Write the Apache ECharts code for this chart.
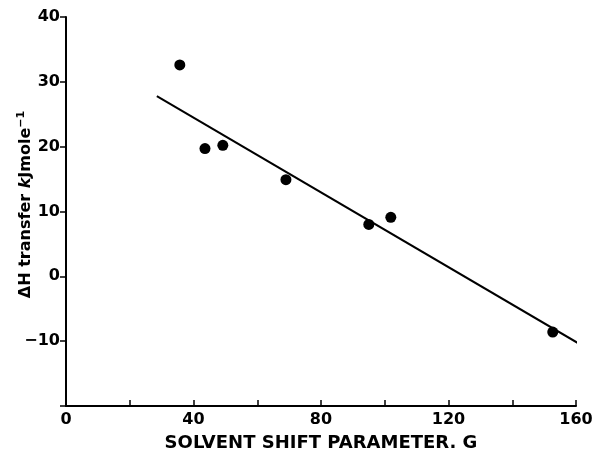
<!DOCTYPE html>
<html>
<head>
<meta charset="utf-8">
<script src="https://cdn.jsdelivr.net/npm/echarts@6/dist/echarts.min.js"></script>
<style>
    html, body { margin: 0; padding: 0; background: #fff; }
    #main { width: 595px; height: 451px; }
</style>
</head>
<body>
<div id="main"></div>
<script>
// measured points: solvent shift parameter G vs enthalpy of transfer
var shiftG = [35.7, 43.6, 49.2, 69, 95, 101.9, 152.7]
var dHTransfer = [32.6, 19.7, 20.2, 14.9, 8.0, 9.1, -8.6]
// least squares line, drawn between its two end points
var fitG = [28.5, 161]
var fitH = [27.8, -10.4]
var xTicks = [0, 40, 80, 120, 160]
var yTicks = [40, 30, 20, 10, 0, -10]

var fontColor = '#000'
var fontFamily = 'DejaVu Sans, Verdana, sans-serif'

var points = shiftG.map(function(g, i) { return [g, dHTransfer[i]] })
var fitLine = fitG.map(function(g, i) { return [g, fitH[i]] })

var myChart = echarts.init(document.getElementById('main'))
var option = {
    animation: false,
    backgroundColor: '#fff',
    grid: {
        left: 66,
        right: 19,
        top: 17,
        bottom: 45,
        containLabel: false,
        outerBoundsMode: 'none'
    },
    xAxis: {
        type: 'value',
        min: 0,
        max: 160,
        interval: 20,
        name: 'SOLVENT SHIFT PARAMETER. G',
        nameLocation: 'middle',
        nameGap: 28,
        nameMoveOverlap: false,
        nameTextStyle: {
            color: fontColor,
            fontSize: 18,
            fontWeight: 'bold',
            fontFamily: fontFamily
        },
        axisLine: {
            onZero: false,
            lineStyle: { color: fontColor, width: 2 }
        },
        axisTick: {
            inside: true,
            length: 6,
            lineStyle: { color: fontColor, width: 1.5 }
        },
        axisLabel: {
            color: fontColor,
            fontSize: 16,
            fontWeight: 'bold',
            fontFamily: fontFamily,
            margin: 6,
            formatter: function(v) {
                return xTicks.indexOf(v) > -1 ? String(v) : ''
            }
        },
        splitLine: { show: false }
    },
    yAxis: {
        type: 'value',
        min: -20,
        max: 40,
        interval: 10,
        name: '{a|ΔH transfer }{k|k}{n|Jmole}{s|−1}',
        nameLocation: 'middle',
        nameGap: 30,
        nameMoveOverlap: false,
        nameRotate: 90,
        nameTextStyle: {
            rich: {
                a: { color: fontColor, fontSize: 16, fontWeight: 'bold', fontFamily: fontFamily, lineHeight: 20, padding: [0, 0, 0, 14] },
                n: { color: fontColor, fontSize: 16, fontWeight: 'bold', fontFamily: fontFamily, lineHeight: 20 },
                k: { color: fontColor, fontSize: 16, fontWeight: 'bold', fontStyle: 'italic', fontFamily: fontFamily, lineHeight: 20 },
                s: { color: fontColor, fontSize: 11, fontWeight: 'bold', fontFamily: fontFamily, verticalAlign: 'top', lineHeight: 20 }
            }
        },
        axisLine: {
            onZero: false,
            lineStyle: { color: fontColor, width: 2 }
        },
        axisTick: {
            length: 6,
            lineStyle: { color: fontColor, width: 1.5 }
        },
        axisLabel: {
            color: fontColor,
            fontSize: 16,
            fontWeight: 'bold',
            fontFamily: fontFamily,
            margin: 6,
            formatter: function(v) {
                return yTicks.indexOf(v) > -1 ? (v < 0 ? '−' + Math.abs(v) : String(v)) : ''
            }
        },
        splitLine: { show: false }
    },
    series: [
        {
            type: 'line',
            data: fitLine,
            symbol: 'none',
            clip: false,
            lineStyle: { color: fontColor, width: 2 },
            z: 2
        },
        {
            type: 'scatter',
            data: points,
            symbol: 'circle',
            symbolSize: 11,
            itemStyle: { color: fontColor, opacity: 1 },
            z: 3
        }
    ]
}
myChart.setOption(option)
</script>
</body>
</html>
